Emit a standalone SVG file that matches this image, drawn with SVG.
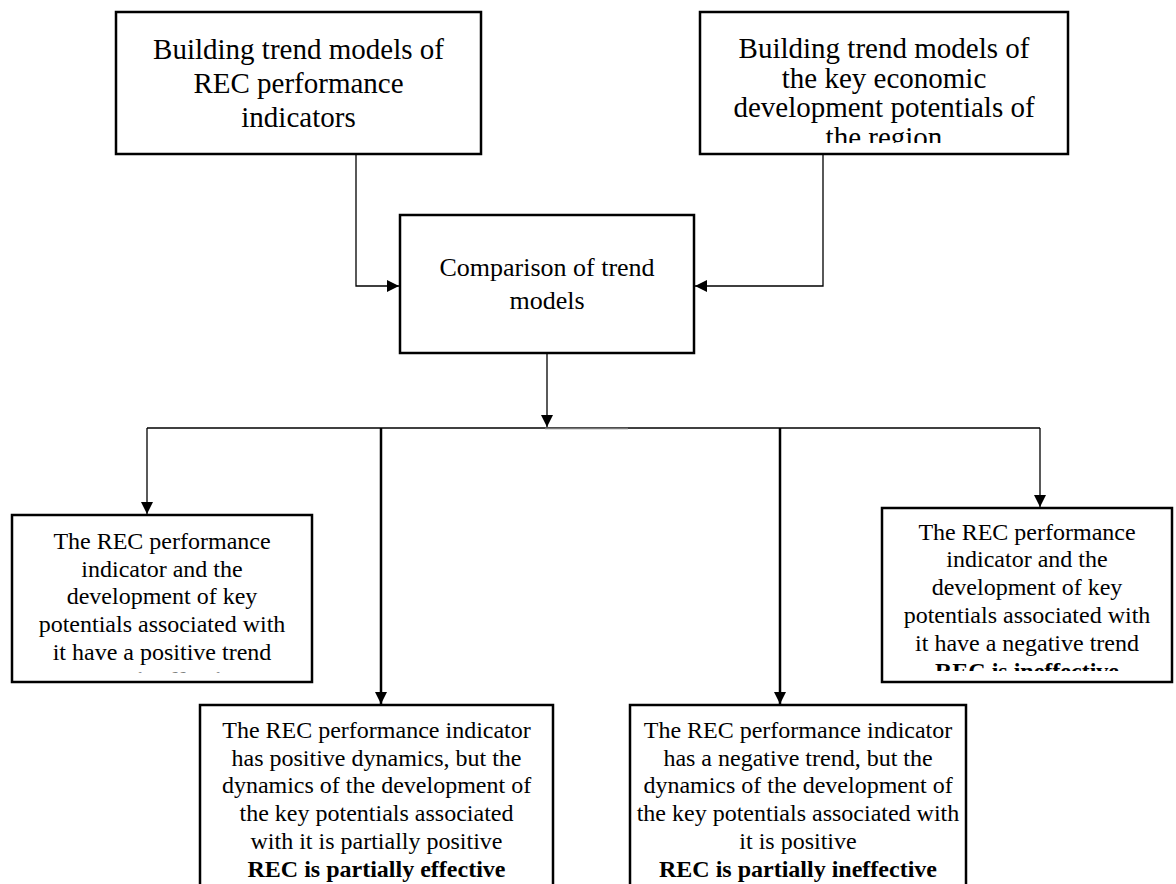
<svg xmlns="http://www.w3.org/2000/svg" width="1176" height="884" viewBox="0 0 1176 884">
<style>
.box{fill:#fff;stroke:#000;stroke-width:2.5}
.t{font-family:"Liberation Serif","Times New Roman",serif;fill:#000;text-anchor:middle}
.big{font-size:29px}
.mid{font-size:26px}
.sm{font-size:24px}
.b{font-weight:bold}
.thin{fill:none;stroke:#000;stroke-width:1.3}
.thick{fill:none;stroke:#000;stroke-width:2.5}
</style>
<defs>
<marker id="ah" viewBox="0 0 12 12" refX="12" refY="6" markerWidth="12" markerHeight="12" markerUnits="userSpaceOnUse" orient="auto">
<path d="M0,0 L12,6 L0,12 Z" fill="#000"/>
</marker>
<marker id="ahb" viewBox="0 0 12 12" refX="12" refY="6" markerWidth="12" markerHeight="12" markerUnits="userSpaceOnUse" orient="auto">
<path d="M0,0 L12,6 L0,12 Z" fill="#000"/>
</marker>
<clipPath id="cTR"><rect x="700" y="12" width="368" height="131"/></clipPath>
<clipPath id="cL"><rect x="12" y="515" width="300" height="158"/></clipPath>
<clipPath id="cR"><rect x="882" y="508" width="290" height="163"/></clipPath>
</defs>
<rect width="1176" height="884" fill="#fff"/>

<g id="connectors">
<polyline class="thin" points="356,155 356,286 399,286" marker-end="url(#ah)"/>
<polyline class="thin" points="823,155 823,286 695,286" marker-end="url(#ah)"/>
<line class="thin" x1="547" y1="354" x2="547" y2="427" marker-end="url(#ah)"/>
<line class="thin" x1="147" y1="428" x2="1040" y2="428"/>
<line x1="545" y1="428.5" x2="628" y2="428.5" stroke="#777" stroke-width="1.5"/>
<line class="thin" x1="147" y1="428" x2="147" y2="514" marker-end="url(#ah)"/>
<line class="thin" x1="1040" y1="428" x2="1040" y2="507" marker-end="url(#ah)"/>
<line class="thick" x1="381" y1="428" x2="381" y2="704" marker-end="url(#ahb)"/>
<line class="thick" x1="780" y1="428" x2="780" y2="704" marker-end="url(#ahb)"/>
</g>

<g id="node-trend-rec">
<rect class="box" x="116" y="12" width="365" height="142"/>
<text class="t big" x="298.5" y="59">Building trend models of</text>
<text class="t big" x="298.5" y="93">REC performance</text>
<text class="t big" x="298.5" y="127">indicators</text>
</g>

<g id="node-trend-region">
<rect class="box" x="700" y="12" width="368" height="142"/>
<g clip-path="url(#cTR)">
<text class="t big" x="884" y="58">Building trend models of</text>
<text class="t big" x="884" y="88">the key economic</text>
<text class="t big" x="884" y="117">development potentials of</text>
<text class="t big" x="884" y="147">the region</text>
</g>
</g>

<g id="node-comparison">
<rect class="box" x="400" y="215" width="294" height="138"/>
<text class="t mid" x="547" y="276">Comparison of trend</text>
<text class="t mid" x="547" y="309">models</text>
</g>

<g id="node-effective">
<rect class="box" x="12" y="515" width="300" height="167"/>
<g clip-path="url(#cL)">
<text class="t sm" x="162" y="549">The REC performance</text>
<text class="t sm" x="162" y="577">indicator and the</text>
<text class="t sm" x="162" y="604">development of key</text>
<text class="t sm" x="162" y="632">potentials associated with</text>
<text class="t sm" x="162" y="660">it have a positive trend</text>
<text class="t sm b" x="162" y="688" fill-opacity="0.5">REC is effective</text>
</g>
</g>

<g id="node-partially-effective">
<rect class="box" x="200" y="705" width="353" height="190"/>
<text class="t sm" x="376.5" y="738">The REC performance indicator</text>
<text class="t sm" x="376.5" y="766">has positive dynamics, but the</text>
<text class="t sm" x="376.5" y="793">dynamics of the development of</text>
<text class="t sm" x="376.5" y="821">the key potentials associated</text>
<text class="t sm" x="376.5" y="849">with it is partially positive</text>
<text class="t sm b" x="376.5" y="877">REC is partially effective</text>
</g>

<g id="node-partially-ineffective">
<rect class="box" x="630" y="705" width="336" height="190"/>
<text class="t sm" x="798" y="738">The REC performance indicator</text>
<text class="t sm" x="798" y="766">has a negative trend, but the</text>
<text class="t sm" x="798" y="793">dynamics of the development of</text>
<text class="t sm" x="798" y="821">the key potentials associated with</text>
<text class="t sm" x="798" y="849">it is positive</text>
<text class="t sm b" x="798" y="877">REC is partially ineffective</text>
</g>

<g id="node-ineffective">
<rect class="box" x="882" y="508" width="290" height="174"/>
<g clip-path="url(#cR)">
<text class="t sm" x="1027" y="540">The REC performance</text>
<text class="t sm" x="1027" y="567">indicator and the</text>
<text class="t sm" x="1027" y="595">development of key</text>
<text class="t sm" x="1027" y="623">potentials associated with</text>
<text class="t sm" x="1027" y="651">it have a negative trend</text>
<text class="t sm b" x="1027" y="679">REC is ineffective</text>
</g>
</g>
</svg>
